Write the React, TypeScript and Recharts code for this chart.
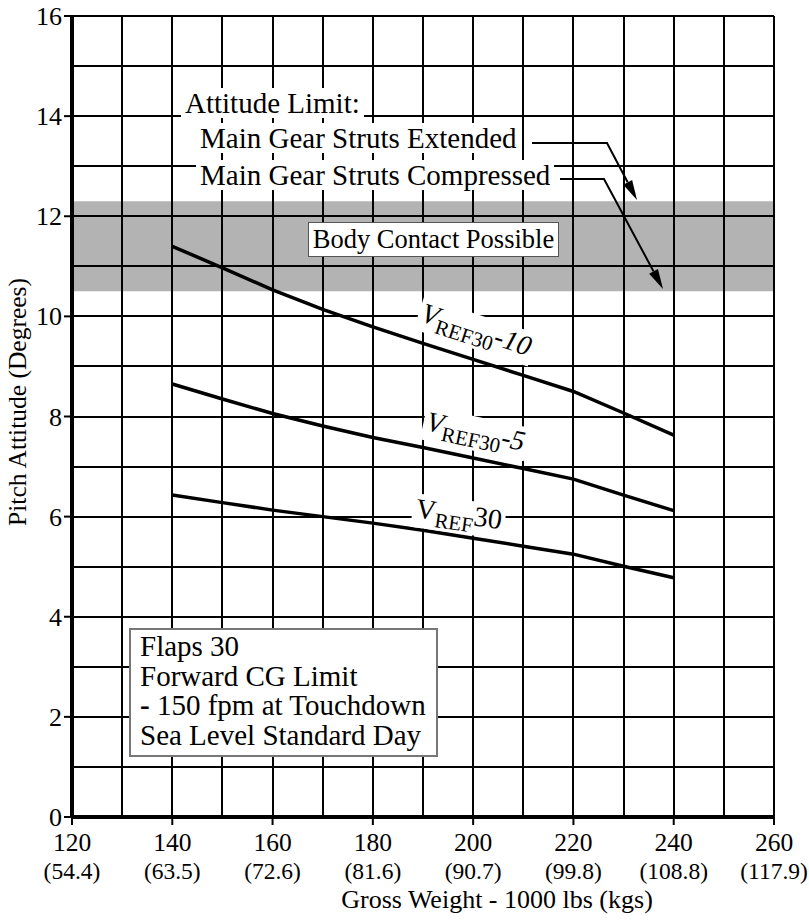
import React from 'react';
import { LineChart, Line, XAxis, YAxis, ReferenceArea, ReferenceLine } from 'recharts';

// gross weight, 1000 lbs
const weights = [140, 150, 160, 170, 180, 190, 200, 210, 220, 230, 240];
// pitch attitude, degrees
const vref30Minus10 = [11.4, 10.97, 10.53, 10.14, 9.79, 9.46, 9.14, 8.82, 8.5, 8.07, 7.63];
const vref30Minus5 = [8.65, 8.35, 8.06, 7.81, 7.58, 7.38, 7.17, 6.96, 6.75, 6.43, 6.12];
const vref30 = [6.43, 6.28, 6.13, 6.0, 5.87, 5.73, 5.57, 5.41, 5.25, 5.01, 4.78];

const xTicks = [120, 130, 140, 150, 160, 170, 180, 190, 200, 210, 220, 230, 240, 250, 260];
const xLbsLabels = [120, 140, 160, 180, 200, 220, 240, 260];
const xKgsLabels = ['(54.4)', '(63.5)', '(72.6)', '(81.6)', '(90.7)', '(99.8)', '(108.8)', '(117.9)'];
const yTicks = [0, 1, 2, 3, 4, 5, 6, 7, 8, 9, 10, 11, 12, 13, 14, 15, 16];
const yLabels = [0, 2, 4, 6, 8, 10, 12, 14, 16];
const bodyContactBand = [10.5, 12.3];

const notes = ['Flaps 30', 'Forward CG Limit', '- 150 fpm at Touchdown', 'Sea Level Standard Day'];

const FONT = '"Liberation Serif", "Times New Roman", serif';

const chartData = weights.map((w, i) => ({
  weight: w,
  minus10: vref30Minus10[i],
  minus5: vref30Minus5[i],
  base: vref30[i],
}));

const XTick = ({ x, y, payload }: any) => {
  const i = xLbsLabels.indexOf(payload.value);
  if (i < 0) return <g />;
  return (
    <g>
      <line x1={x} x2={x} y1={y} y2={y + 8} stroke="#000" strokeWidth={2} />
      <text x={x} y={y + 34} textAnchor="middle" fontSize={25.5} fontFamily={FONT} fill="#000">
        {payload.value}
      </text>
      <text x={x} y={y + 62} textAnchor="middle" fontSize={23.5} fontFamily={FONT} fill="#000">
        {xKgsLabels[i]}
      </text>
    </g>
  );
};

const YTick = ({ x, y, payload }: any) => {
  if (!yLabels.includes(payload.value)) return <g />;
  return (
    <g>
      <line x1={x - 8} x2={x} y1={y} y2={y} stroke="#000" strokeWidth={2} />
      <text x={x - 10} y={y + 9} textAnchor="end" fontSize={26} fontFamily={FONT} fill="#000">
        {payload.value}
      </text>
    </g>
  );
};

const arrowPath = (pts: number[][]) => {
  const [fx, fy] = pts[pts.length - 2];
  const [tx, ty] = pts[pts.length - 1];
  const len = Math.hypot(tx - fx, ty - fy);
  const ux = (tx - fx) / len;
  const uy = (ty - fy) / len;
  const bx = tx - ux * 20;
  const by = ty - uy * 20;
  const line = [...pts.slice(0, -1), [bx, by]].map((p) => p.join(',')).join(' ');
  const head = `${tx},${ty} ${bx - uy * 5},${by + ux * 5} ${bx + uy * 5},${by - ux * 5}`;
  return { line, head };
};

const leaderExtended = arrowPath([[532, 143], [607, 143], [637, 200]]);
const leaderCompressed = arrowPath([[560, 179], [604, 179], [663, 289]]);

const textBg: React.CSSProperties = {
  position: 'absolute',
  background: '#fff',
  fontSize: 29,
  lineHeight: '30px',
  padding: '0 4px',
  whiteSpace: 'nowrap',
  color: '#000',
};

const VLabel = ({ left, top, angle, sub, tail, italicV = true }: any) => (
  <div
    style={{
      position: 'absolute',
      left,
      top,
      background: '#fff',
      fontSize: 28,
      lineHeight: '30px',
      padding: '0 3px 2px 3px',
      whiteSpace: 'nowrap',
      transform: `rotate(${angle}deg)`,
      transformOrigin: '0 0',
      color: '#000',
    }}
  >
    <span style={{ fontStyle: italicV ? 'italic' : 'normal' }}>V</span>
    <span style={{ fontSize: 21, position: 'relative', top: 7 }}>{sub}</span>
    <span style={{ fontStyle: tail === '30' ? 'normal' : 'italic' }}>{tail}</span>
  </div>
);

export default function App() {
  return (
    <div
      style={{
        position: 'absolute',
        left: 0,
        top: 0,
        width: 809,
        height: 923,
        background: '#fff',
        fontFamily: FONT,
        overflow: 'hidden',
      }}
    >
      <LineChart width={809} height={923} data={chartData} margin={{ top: 16, right: 35, bottom: 0, left: 0 }}>
        <XAxis
          dataKey="weight"
          type="number"
          domain={[120, 260]}
          ticks={xTicks}
          interval={0}
          height={106}
          tickSize={0}
          tickMargin={0}
          tickLine={false}
          tick={<XTick />}
          axisLine={{ stroke: '#000', strokeWidth: 4 }}
        />
        <YAxis
          type="number"
          domain={[0, 16]}
          ticks={yTicks}
          interval={0}
          width={72}
          tickSize={0}
          tickMargin={0}
          tickLine={false}
          tick={<YTick />}
          axisLine={{ stroke: '#000', strokeWidth: 4 }}
        />
        <ReferenceArea y1={bodyContactBand[0]} y2={bodyContactBand[1]} fill="#b3b3b3" fillOpacity={1} stroke="none" />
        {xTicks.slice(1).map((v) => (
          <ReferenceLine
            key={'x' + v}
            x={v}
            stroke="#000"
            strokeWidth={v === 260 ? 2.5 : 2}
            shapeRendering="crispEdges"
          />
        ))}
        {yTicks.slice(1).map((v) => (
          <ReferenceLine
            key={'y' + v}
            y={v}
            stroke="#000"
            strokeWidth={v === 16 ? 2.5 : 2}
            shapeRendering="crispEdges"
          />
        ))}
        <Line dataKey="minus10" stroke="#000" strokeWidth={3.5} dot={false} isAnimationActive={false} />
        <Line dataKey="minus5" stroke="#000" strokeWidth={3.5} dot={false} isAnimationActive={false} />
        <Line dataKey="base" stroke="#000" strokeWidth={3.5} dot={false} isAnimationActive={false} />
      </LineChart>

      <svg width={809} height={923} style={{ position: 'absolute', left: 0, top: 0, pointerEvents: 'none' }}>
        <polyline points={leaderExtended.line} fill="none" stroke="#000" strokeWidth={2} />
        <polygon points={leaderExtended.head} fill="#000" />
        <polyline points={leaderCompressed.line} fill="none" stroke="#000" strokeWidth={2} />
        <polygon points={leaderCompressed.head} fill="#000" />
        <text x={497} y={908} textAnchor="middle" fontSize={26} fontFamily={FONT} fill="#000">
          Gross Weight - 1000 lbs (kgs)
        </text>
        <text
          x={26}
          y={402}
          transform="rotate(-90 26 402)"
          textAnchor="middle"
          fontSize={25.5}
          fontFamily={FONT}
          fill="#000"
        >
          Pitch Attitude (Degrees)
        </text>
      </svg>

      <div style={{ ...textBg, left: 181, top: 88 }}>Attitude Limit:</div>
      <div style={{ ...textBg, left: 196, top: 123 }}>Main Gear Struts Extended</div>
      <div style={{ ...textBg, left: 196, top: 160 }}>Main Gear Struts Compressed</div>

      <div
        style={{
          position: 'absolute',
          left: 308,
          top: 222,
          width: 251,
          height: 35,
          boxSizing: 'border-box',
          background: '#fff',
          border: '1.5px solid #555',
          fontSize: 26.5,
          display: 'flex',
          alignItems: 'center',
          justifyContent: 'center',
          whiteSpace: 'nowrap',
          color: '#000',
        }}
      >
        Body Contact Possible
      </div>

      <VLabel left={424} top={297} angle={18} sub="REF30" tail="-10" />
      <VLabel left={427} top={406} angle={12} sub="REF30" tail="-5" />
      <VLabel left={415} top={493} angle={8} sub="REF" tail="30" italicV={false} />

      <div
        style={{
          position: 'absolute',
          left: 129,
          top: 628,
          width: 309,
          height: 129,
          boxSizing: 'border-box',
          background: '#fff',
          border: '2px solid #777',
          padding: '2px 0 0 9px',
          fontSize: 29,
          lineHeight: '29.5px',
          color: '#000',
          whiteSpace: 'nowrap',
        }}
      >
        {notes.map((n) => (
          <div key={n}>
            {n.startsWith('-') ? (
              <>
                <b>-</b>
                {n.slice(1)}
              </>
            ) : (
              n
            )}
          </div>
        ))}
      </div>
    </div>
  );
}
